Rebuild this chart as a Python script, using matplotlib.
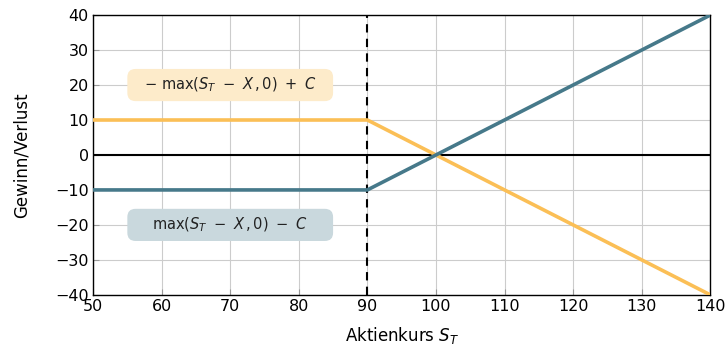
import matplotlib
matplotlib.use("Agg")
import matplotlib.pyplot as plt
from matplotlib.patches import FancyBboxPatch

plt.rcParams["font.family"] = ["DejaVu Sans"]
plt.rcParams["mathtext.fontset"] = "dejavusans"

# Payoff at expiry for a call with strike X = 90 and premium C = 10
prices = [50, 90, 140]
long_call = [-10, -10, 40]
short_call = [10, 10, -40]
strike = 90

x_ticks = [50, 60, 70, 80, 90, 100, 110, 120, 130, 140]
y_ticks = [-40, -30, -20, -10, 0, 10, 20, 30, 40]

teal = "#46798a"
gold = "#fbbf56"

fig = plt.figure(figsize=(7.27, 3.51), dpi=100)
ax = fig.add_axes([0.128, 0.16, 0.849, 0.797])

ax.set_xlim(50, 140)
ax.set_ylim(-40, 40)
ax.set_xticks(x_ticks)
ax.set_yticks(y_ticks)
ax.set_yticklabels([f"{v}".replace("-", "\u2212") for v in y_ticks])
ax.grid(True, color="#cccccc", linewidth=0.8)
ax.set_axisbelow(True)
ax.tick_params(direction="in", length=4, color="#999999", labelsize=11.5, pad=3)

ax.axhline(0, color="black", linewidth=1.5, zorder=2)
ax.axvline(strike, color="black", linewidth=1.5, linestyle=(0, (4, 3)), zorder=2)

ax.plot(prices, short_call, color=gold, linewidth=2.6, zorder=3)
ax.plot(prices, long_call, color=teal, linewidth=2.6, zorder=3)

# Formula labels in rounded boxes of equal size
labels = [
    (20, r"$-\ \mathrm{max}(S_T\ -\ X\,,0)\ +\ C$", "#fdebca"),
    (-20, r"$\mathrm{max}(S_T\ -\ X\,,0)\ -\ C$", "#c9d8dd"),
]
for yc, txt, fc in labels:
    patch = FancyBboxPatch((55.0, yc - 4.6), 30.0, 9.2,
                           boxstyle="round,pad=0,rounding_size=1.2",
                           mutation_aspect=1.95, facecolor=fc,
                           edgecolor="none", zorder=4)
    ax.add_patch(patch)
    ax.text(70, yc, txt, ha="center", va="center", fontsize=10.5,
            color="#222222", zorder=5)

for s in ax.spines.values():
    s.set_linewidth(1.0)

ax.set_xlabel(r"Aktienkurs $S_T$", fontsize=12, labelpad=8)
ax.set_ylabel("Gewinn/Verlust", fontsize=12, labelpad=18)

fig.savefig("out.png", dpi=100)
